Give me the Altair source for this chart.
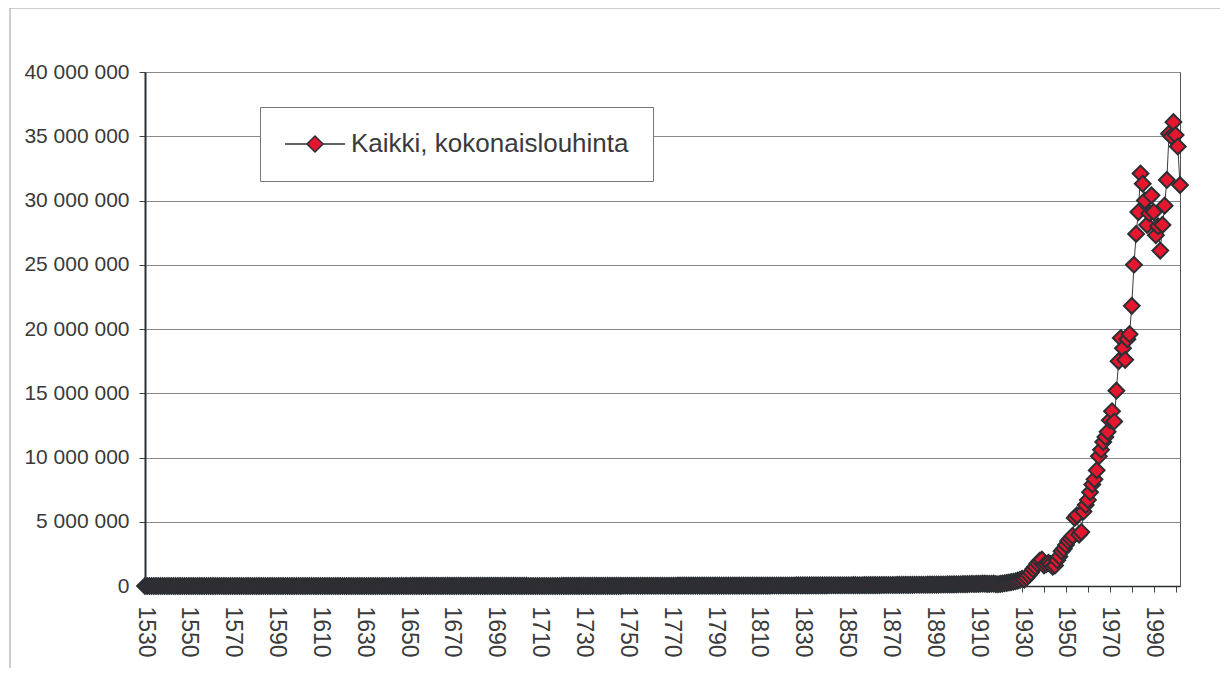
import altair as alt
import pandas as pd

# Years on the category axis
years = list(range(1530, 2003))

# Total extraction, thousand tonnes (early years all ~0 on this scale)
v_1530_1699 = [
    0.2, 0.3, 0.2, 0.4, 0.3, 0.3, 0.5, 0.4, 0.3, 0.4,
    0.5, 0.6, 0.4, 0.5, 0.7, 0.6, 0.5, 0.8, 0.6, 0.7,
    0.8, 0.9, 0.7, 1.0, 0.8, 0.9, 1.1, 0.9, 1.0, 1.2,
    1.0, 1.1, 0.9, 1.2, 1.0, 1.3, 1.1, 1.2, 1.0, 1.4,
    1.2, 1.3, 1.1, 1.4, 1.2, 1.5, 1.3, 1.4, 1.2, 1.6,
    1.4, 1.5, 1.3, 1.6, 1.4, 1.7, 1.5, 1.6, 1.4, 1.8,
    1.5, 1.7, 1.6, 1.8, 1.5, 1.9, 1.7, 1.8, 1.6, 2.0,
    1.8, 2.0, 1.9, 2.1, 1.8, 2.2, 2.0, 2.1, 1.9, 2.3,
    2.0, 2.2, 2.1, 2.4, 2.2, 2.5, 2.3, 2.6, 2.4, 2.7,
    2.5, 2.8, 2.6, 2.9, 2.7, 3.0, 2.8, 3.1, 2.9, 3.2,
    3.0, 3.3, 3.1, 3.5, 3.2, 3.6, 3.4, 3.7, 3.5, 3.8,
    3.6, 3.9, 3.7, 4.1, 3.8, 4.2, 4.0, 4.3, 4.1, 4.4,
    4.2, 4.5, 4.3, 4.7, 4.4, 4.8, 4.6, 4.9, 4.7, 5.0,
    4.8, 5.1, 4.9, 5.3, 5.0, 5.4, 5.2, 5.5, 5.3, 5.6,
    5.4, 5.7, 5.5, 5.9, 5.6, 6.0, 5.8, 6.1, 5.9, 6.2,
    6.0, 6.3, 6.1, 6.5, 6.2, 6.6, 6.4, 6.7, 6.5, 6.8,
    6.6, 6.9, 6.2, 5.8, 5.5, 5.9, 6.1, 6.4, 6.6, 6.9,
]
v_1700_1899 = [
    7.0, 6.5, 6.0, 5.4, 4.8, 4.2, 3.9, 3.6, 3.5, 3.3,
    3.1, 2.9, 2.8, 2.6, 2.5, 2.7, 3.0, 3.4, 3.8, 4.2,
    4.6, 5.0, 5.5, 6.0, 6.4, 6.9, 7.3, 7.8, 8.2, 8.6,
    9.0, 9.4, 9.8, 10.2, 10.5, 10.9, 11.2, 11.6, 11.9, 12.3,
    12.1, 12.6, 13.0, 13.4, 13.8, 14.1, 14.5, 14.9, 15.2, 15.6,
    15.9, 16.3, 16.6, 17.0, 17.3, 17.7, 18.0, 18.4, 18.7, 19.1,
    19.4, 19.8, 20.1, 20.5, 20.8, 21.2, 21.5, 21.9, 22.2, 22.6,
    22.9, 23.3, 23.6, 24.0, 24.3, 24.7, 25.0, 25.4, 25.7, 26.1,
    26.4, 26.8, 27.1, 27.5, 27.8, 28.2, 28.5, 28.9, 29.2, 29.6,
    29.9, 30.3, 28.5, 27.2, 26.8, 27.5, 28.9, 30.1, 31.4, 32.6,
    33.0, 33.8, 32.5, 31.9, 32.7, 33.5, 34.2, 33.1, 30.2, 28.4,
    29.6, 30.8, 31.5, 32.4, 33.2, 34.0, 34.9, 35.6, 36.4, 37.1,
    38.0, 38.7, 39.5, 40.2, 41.0, 41.7, 42.5, 43.2, 44.0, 44.8,
    45.5, 46.3, 47.0, 47.8, 48.5, 49.3, 50.0, 50.8, 51.5, 52.3,
    53.0, 53.8, 54.5, 55.3, 56.0, 56.8, 57.5, 58.3, 59.0, 59.8,
    60.5, 61.3, 62.0, 62.8, 63.5, 61.2, 58.9, 60.4, 62.7, 64.1,
    65.5, 66.8, 68.2, 69.5, 70.9, 72.2, 73.6, 74.9, 76.3, 77.6,
    79.0, 80.3, 81.7, 83.0, 84.4, 85.7, 87.1, 88.4, 89.8, 91.1,
    92.5, 93.8, 95.2, 96.5, 97.9, 99.2, 100.6, 101.9, 103.3, 104.6,
    106.0, 108.5, 111.0, 113.5, 116.0, 118.5, 121.0, 123.5, 126.0, 128.5,
]
v_1900_2002 = [
    131, 135, 138, 142, 146, 150, 155, 160, 158, 163,
    168, 175, 182, 190, 170, 160, 175, 185, 150, 140,
    170, 190, 210, 240, 270, 300, 330, 370, 420, 480,
    560, 500, 650, 850, 1050, 1300, 1500, 1750, 1950, 2050,
    1600, 1700, 1800, 1700, 1500, 1600, 2000, 2300, 2700, 2900,
    3200, 3500, 3700, 3900, 5300, 5500, 4000, 4200, 5800, 6300,
    6700, 7300, 7900, 8300, 9000, 10100, 10600, 11200, 11600, 12000,
    12900, 13600, 12800, 15200, 17500, 19300, 18500, 17600, 19200, 19600,
    21800, 25000, 27400, 29100, 32100, 31300, 30000, 28100, 29000, 30400,
    29100, 27300, 28000, 26100, 28100, 29600, 31600, 35200, 35000, 36100,
    35100, 34200, 31200,
]
values_k = v_1530_1699 + v_1700_1899 + v_1900_2002
series_name = "Kaikki, kokonaislouhinta"

df = pd.DataFrame({
    "vuosi": years,
    "louhinta": [v * 1000 for v in values_k],
    "sarja": [series_name] * len(years),
})

FONT = "Liberation Sans"
DARK = "#2b2f33"
TEXT = "#3a3a3a"

x = alt.X(
    "vuosi:Q",
    scale=alt.Scale(domain=[1530, 2002], nice=False, zero=False),
    axis=alt.Axis(
        title=None,
        values=list(range(1530, 2003, 10)),
        format="d",
        labelExpr="(datum.value - 1530) % 20 == 0 ? datum.label : ''",
        labelAngle=90,
        labelFontSize=23,
        labelFont=FONT,
        labelColor=TEXT,
        labelPadding=14,
        labelOverlap=False,
        labelFlush=False,
        tickSize=6,
        tickColor="#444",
        domainColor=DARK,
        domainWidth=1.5,
        grid=False,
    ),
)
y = alt.Y(
    "louhinta:Q",
    scale=alt.Scale(domain=[0, 40000000], nice=False),
    axis=alt.Axis(
        title=None,
        values=list(range(0, 40000001, 5000000)),
        labelExpr="replace(format(datum.value, ','), regexp(',', 'g'), ' ')",
        labelFontSize=21,
        labelFont=FONT,
        labelColor=TEXT,
        labelPadding=10,
        tickSize=6,
        tickColor="#444",
        domainColor=DARK,
        domainWidth=2,
        grid=True,
        gridColor="#8a8a8a",
        gridWidth=1,
    ),
)

base = alt.Chart(df).encode(x=x, y=y)

line = base.mark_line(color="#3c3c3c", strokeWidth=1)

legend_path = "M-1,0L0.83,0M2.17,0L4,0M1.5,-0.67L2.17,0L1.5,0.67L0.83,0Z"

points = base.mark_point(
    shape="diamond", filled=True, size=250, stroke=DARK, strokeWidth=2,
    opacity=1, fillOpacity=1, strokeOpacity=1,
).encode(
    fill=alt.Fill(
        "sarja:N",
        scale=alt.Scale(range=["#e5172f"]),
        legend=alt.Legend(
            title=None,
            orient="none",
            legendX=115,
            legendY=35,
            symbolType=legend_path,
            symbolSize=576,
            symbolStrokeColor=DARK,
            symbolStrokeWidth=1.5,
            symbolOpacity=1,
            labelFontSize=26,
            labelFont=FONT,
            labelColor=TEXT,
            labelOffset=41,
            labelLimit=600,
            padding=24,
            strokeColor="#777",
            fillColor="white",
        ),
    )
)

frame_df = pd.DataFrame({"k": [0]})
frame_top = alt.Chart(frame_df).mark_rule(color="#999", strokeWidth=1).encode(
    x=alt.value(-135), x2=alt.value(1075), y=alt.value(-64)
)
frame_left = alt.Chart(frame_df).mark_rule(color="#999", strokeWidth=1).encode(
    x=alt.value(-135), y=alt.value(-64), y2=alt.value(598)
)

chart = alt.layer(line, points, frame_top, frame_left).properties(
    width=1035,
    height=514,
    padding={"left": 137, "top": 64, "right": 40, "bottom": 82},
    autosize=alt.AutoSizeParams(type="none"),
    background="white",
).configure_view(
    stroke="#555", strokeWidth=1
)

chart.save("out.html", embed_options={"renderer": "svg", "actions": False})
